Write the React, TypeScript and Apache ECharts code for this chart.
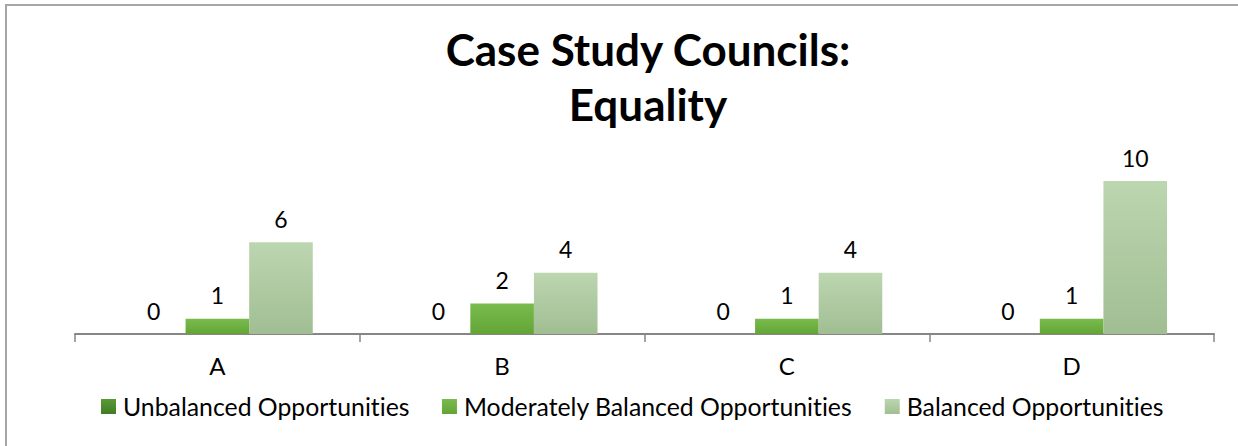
import React, { useEffect, useRef } from "react";
import * as echarts from "echarts";

const categories = ["A", "B", "C", "D"];
const unbalanced = [0, 0, 0, 0];
const moderate = [1, 2, 1, 1];
const balanced = [6, 4, 4, 10];
const seriesNames = [
  "Unbalanced Opportunities",
  "Moderately Balanced Opportunities",
  "Balanced Opportunities",
];

const FONT = "Lato, 'Open Sans', sans-serif";

function grad(top: string, bottom: string) {
  return new echarts.graphic.LinearGradient(0, 0, 0, 1, [
    { offset: 0, color: top },
    { offset: 1, color: bottom },
  ]);
}

export default function App() {
  const ref = useRef<HTMLDivElement>(null);
  useEffect(() => {
    if (!ref.current) return;
    const chart = echarts.init(ref.current, undefined, { renderer: "svg" });
    const label = {
      show: true,
      position: "top" as const,
      distance: 12,
      color: "#000",
      fontFamily: FONT,
      fontSize: 23,
    };
    chart.setOption({
      animation: false,
      backgroundColor: "#fff",
      title: {
        text: "Case Study Councils:\nEquality",
        left: 643,
        textAlign: "center",
        top: 16,
        textStyle: {
          fontFamily: FONT,
          fontWeight: "bold",
          fontSize: 44,
          lineHeight: 55,
          color: "#000",
        },
      },
      graphic: [
        {
          type: "rect",
          shape: { x: 6, y: 5, width: 1240, height: 460 },
          style: { fill: "none", stroke: "#a6a6a6", lineWidth: 2 },
          silent: true,
        },
      ],
      legend: {
        bottom: 22,
        left: 96,
        itemWidth: 15,
        itemHeight: 15,
        itemGap: 32,
        icon: "rect",
        textStyle: { fontFamily: FONT, fontSize: 24.8, color: "#000", padding: [0, 0, 0, 2] },
        data: seriesNames,
      },
      grid: { left: 75, right: 24, top: 181, bottom: 112 },
      xAxis: {
        type: "category",
        data: categories,
        axisLine: { lineStyle: { color: "#868686", width: 2 } },
        axisTick: { show: true, length: 8, lineStyle: { color: "#868686", width: 1.5 } },
        axisLabel: { fontFamily: FONT, fontSize: 24, color: "#000", margin: 19 },
      },
      yAxis: {
        type: "value",
        min: 0,
        max: 10,
        show: false,
        splitLine: { show: false },
      },
      series: [
        {
          name: seriesNames[0],
          type: "bar",
          data: unbalanced,
          barGap: "0%",
          barCategoryGap: "33%",
          itemStyle: { color: grad("#5a9a36", "#3f7d24") },
          label,
        },
        {
          name: seriesNames[1],
          type: "bar",
          data: moderate,
          itemStyle: { color: grad("#7bbb4e", "#62a535") },
          label,
        },
        {
          name: seriesNames[2],
          type: "bar",
          data: balanced,
          itemStyle: { color: grad("#bcd6b0", "#a1be93") },
          label,
        },
      ],
    });
    return () => chart.dispose();
  }, []);
  return (
    <>
      <style>{"svg text { font-variant-ligatures: none !important; font-feature-settings: 'liga' 0, 'clig' 0 !important; }"}</style>
      <div
        ref={ref}
        style={{ position: "absolute", left: 0, top: 0, width: 1238, height: 446 }}
      />
    </>
  );
}
